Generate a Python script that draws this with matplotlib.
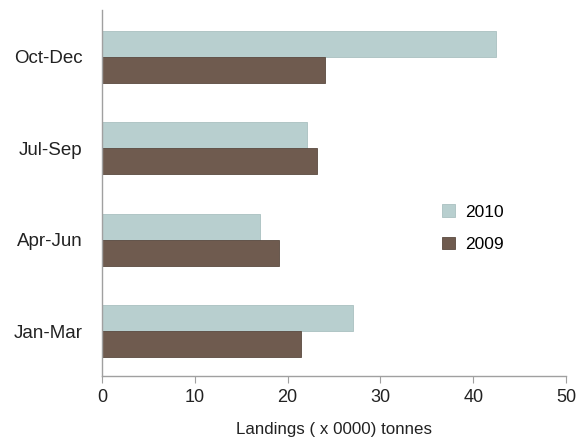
import matplotlib.pyplot as plt
import numpy as np

plt.rcParams["font.family"] = ["Liberation Sans", "DejaVu Sans"]

quarters = ["Jan-Mar", "Apr-Jun", "Jul-Sep", "Oct-Dec"]
landings_2010 = [27.0, 17.0, 22.1, 42.5]
landings_2009 = [21.4, 19.1, 23.2, 24.0]

fig = plt.figure(figsize=(5.81, 4.41), dpi=100)
ax = fig.add_axes([0.1756, 0.147, 0.7986, 0.83])

y = np.arange(len(quarters))
h = 0.285
ax.barh(y + h / 2, landings_2010, h, color="#b8cfcf", label="2010",
        edgecolor="#a9c0c0", linewidth=0.6)
ax.barh(y - h / 2, landings_2009, h, color="#6f5b4f", label="2009",
        edgecolor="#5b4a40", linewidth=0.6)

ax.set_xlim(0, 50)
ax.set_ylim(-0.49, 3.51)
ax.set_xticks(range(0, 51, 10))
ax.set_yticks(y)
ax.set_yticklabels(quarters)
ax.tick_params(axis="y", length=0, pad=14, labelsize=13.5, colors="#222222")
ax.tick_params(axis="x", length=5, color="#a0a0a0", pad=4, labelsize=13,
               labelcolor="#222222")
for s in ["top", "right"]:
    ax.spines[s].set_visible(False)
for s in ["left", "bottom"]:
    ax.spines[s].set_color("#a0a0a0")
    ax.spines[s].set_linewidth(1.0)

ax.set_xlabel("Landings ( x 0000) tonnes", fontsize=12.2, color="#222222",
              labelpad=12)

ax.legend(loc="center left", bbox_to_anchor=(0.70, 0.404), frameon=False,
          fontsize=12.5, handlelength=0.7, handleheight=0.7,
          handletextpad=0.6, labelspacing=1.0)

fig.savefig("out.png", dpi=100)
